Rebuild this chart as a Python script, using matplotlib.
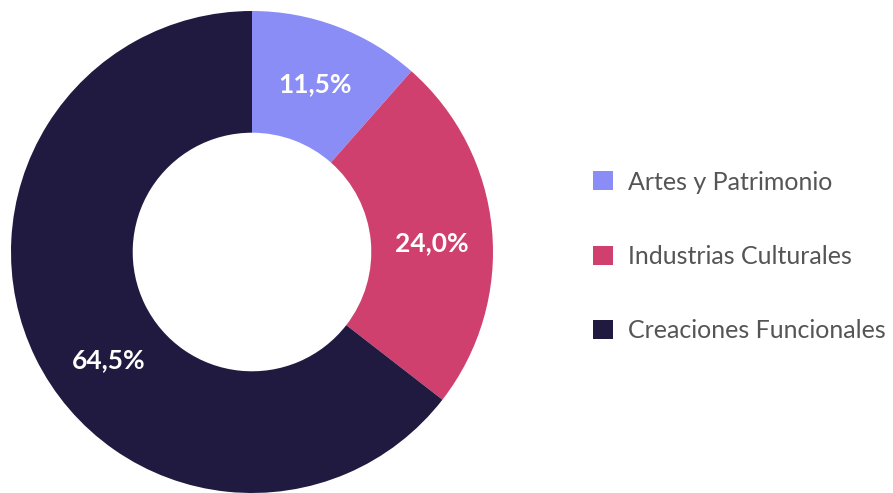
import matplotlib
matplotlib.use("Agg")
import matplotlib.pyplot as plt
from matplotlib.patches import Patch
import numpy as np

categories = ["Artes y Patrimonio", "Industrias Culturales", "Creaciones Funcionales"]
values = [11.5, 24.0, 64.5]
colors = ["#8A8DF5", "#D0406E", "#211A40"]

plt.rcParams['font.family'] = ['Lato', 'DejaVu Sans']

fig = plt.figure(figsize=(8.93, 4.93), dpi=100)
ax = fig.add_axes([11/893, 0, 482/893, 482/493])
wedges, _ = ax.pie(values, colors=colors, startangle=90, counterclock=False,
                   radius=1.0, wedgeprops=dict(width=0.505, edgecolor='none'))
ax.set_aspect('equal')
ax.set_xlim(-1, 1)
ax.set_ylim(-1, 1)
ax.axis('off')

# label placement tweaks (degrees) to mimic reference label positions
label_shift = [0, -2.5, 11]
cum = np.cumsum([0] + values[:-1])
for v, c, s in zip(values, cum, label_shift):
    ang = np.deg2rad(90 - (c + v / 2) * 3.6 + s)
    r = 0.745
    ax.text(r * np.cos(ang), r * np.sin(ang), f"{v:.1f}%".replace('.', ','),
            ha='center', va='center', color='white', fontsize=19, fontweight='bold')

handles = [Patch(facecolor=col, edgecolor='none') for col in colors]
fig.legend(handles, categories, loc='center left', bbox_to_anchor=(593/893, 0.48),
           frameon=False, fontsize=18, labelcolor='#555555', borderpad=0, borderaxespad=0,
           handlelength=0.8, handleheight=0.8, handletextpad=0.6, labelspacing=2.05)

fig.savefig("out.png", dpi=100)
